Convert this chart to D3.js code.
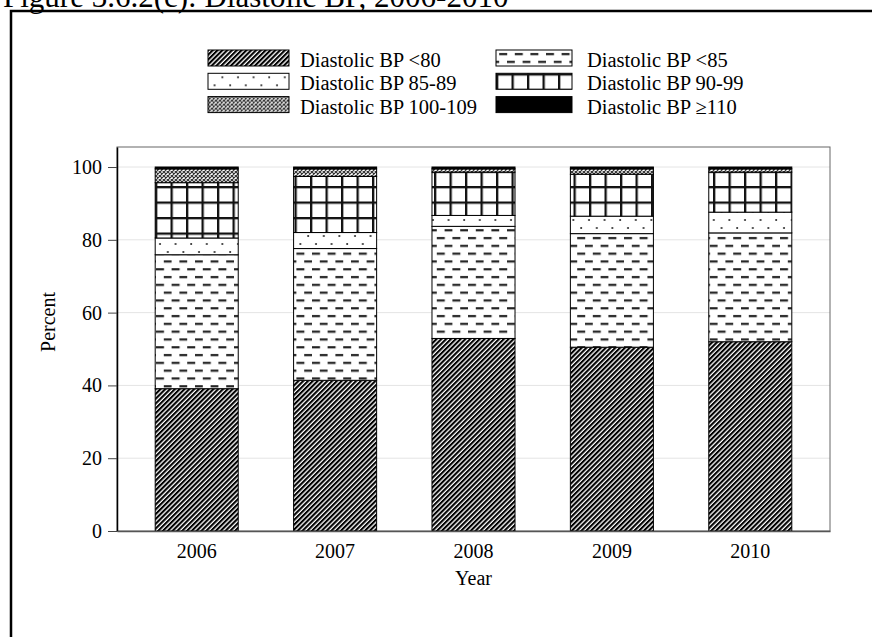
<!DOCTYPE html>
<html>
<head>
<meta charset="utf-8">
<script src="https://cdn.jsdelivr.net/npm/d3@7"></script>
<style>
  body { margin: 0; background: #fff; }
  svg text { font-family: "Liberation Serif", "Times New Roman", serif; fill: #000; }
</style>
</head>
<body>
<svg id="chart" width="872" height="637"></svg>
<script>
// values (percent of patients)
const years = ['2006', '2007', '2008', '2009', '2010'];
const bpLt80 = [39.1, 41.4, 52.9, 50.5, 52.0];
const bpLt85 = [36.8, 36.2, 30.8, 31.2, 29.9];
const bp85to89 = [4.6, 4.4, 3.0, 4.8, 5.7];
const bp90to99 = [15.2, 15.4, 11.9, 11.5, 11.0];
const bp100to109 = [3.8, 2.1, 0.9, 1.5, 0.9];
const bpGe110 = [0.5, 0.5, 0.5, 0.5, 0.5];
const seriesNames = ['Diastolic BP <80', 'Diastolic BP <85', 'Diastolic BP 85-89',
  'Diastolic BP 90-99', 'Diastolic BP 100-109', 'Diastolic BP \u2265110'];
const yTicks = [0, 20, 40, 60, 80, 100];

const seriesValues = [bpLt80, bpLt85, bp85to89, bp90to99, bp100to109, bpGe110];
const keys = ['k0', 'k1', 'k2', 'k3', 'k4', 'k5'];
const rows = years.map((yr, i) => {
  const r = { year: yr };
  keys.forEach((k, j) => { r[k] = seriesValues[j][i]; });
  return r;
});

const serif = '"Liberation Serif", "Times New Roman", serif';
const svg = d3.select('#chart');
svg.append('rect').attr('width', 872).attr('height', 637).attr('fill', '#fff');

// patterns
const defs = svg.append('defs');

let p = defs.append('pattern').attr('id', 'pat0')
  .attr('patternUnits', 'userSpaceOnUse').attr('width', 3.4).attr('height', 3.4)
  .attr('patternTransform', 'rotate(45)');
p.append('rect').attr('width', 3.4).attr('height', 3.4).attr('fill', '#fff');
p.append('rect').attr('width', 2.1).attr('height', 3.4).attr('fill', '#000');

p = defs.append('pattern').attr('id', 'pat1')
  .attr('patternUnits', 'userSpaceOnUse').attr('width', 15.6).attr('height', 15.6);
p.append('rect').attr('width', 15.6).attr('height', 15.6).attr('fill', '#fff');
p.append('rect').attr('x', 0).attr('y', 3).attr('width', 8).attr('height', 2.2).attr('fill', '#222');
p.append('rect').attr('x', 7.8).attr('y', 10.8).attr('width', 8).attr('height', 2.2).attr('fill', '#222');

p = defs.append('pattern').attr('id', 'pat2')
  .attr('patternUnits', 'userSpaceOnUse').attr('width', 15.6).attr('height', 16);
p.append('rect').attr('width', 15.6).attr('height', 16).attr('fill', '#fff');
p.append('circle').attr('cx', 4).attr('cy', 4).attr('r', 1).attr('fill', '#222');
p.append('circle').attr('cx', 11.8).attr('cy', 12).attr('r', 1).attr('fill', '#222');

p = defs.append('pattern').attr('id', 'pat3')
  .attr('patternUnits', 'userSpaceOnUse').attr('width', 15.5).attr('height', 15.5);
p.append('rect').attr('width', 15.5).attr('height', 15.5).attr('fill', '#fff');
p.append('rect').attr('x', 0).attr('y', 0).attr('width', 2.3).attr('height', 15.5).attr('fill', '#111');
p.append('rect').attr('x', 0).attr('y', 0).attr('width', 15.5).attr('height', 2.3).attr('fill', '#111');

p = defs.append('pattern').attr('id', 'pat4')
  .attr('patternUnits', 'userSpaceOnUse').attr('width', 4).attr('height', 4);
p.append('rect').attr('width', 4).attr('height', 4).attr('fill', '#fff');
p.append('path').attr('d', 'M0,0L4,4M4,0L0,4').attr('stroke', '#333').attr('stroke-width', 1.2);

const fills = ['url(#pat0)', 'url(#pat1)', 'url(#pat2)', 'url(#pat3)', 'url(#pat4)', '#000'];

// title (cut off at the top as in the original)
svg.append('text').attr('x', 3).attr('y', 7)
  .style('font-family', serif).style('font-size', '31px')
  .text('Figure 3.6.2(c): Diastolic BP, 2006-2010');

// outer frame
svg.append('rect').attr('x', 11).attr('y', 11).attr('width', 880).attr('height', 640)
  .attr('fill', 'none').attr('stroke', '#000').attr('stroke-width', 2.5);

const plotLeft = 117, plotRight = 830, plotTop = 147, plotBottom = 531;

const x = d3.scaleBand().domain(years).range([plotLeft, plotRight])
  .paddingInner(0.4).paddingOuter(0.276);
const y = d3.scaleLinear().domain([0, 105.5]).range([plotBottom, plotTop]);

// gridlines
svg.append('g').selectAll('line').data(yTicks.filter(d => d > 0)).join('line')
  .attr('x1', plotLeft).attr('x2', plotRight)
  .attr('y1', d => y(d)).attr('y2', d => y(d))
  .attr('stroke', '#e4e4e4').attr('stroke-width', 1);

// plot frame
svg.append('rect').attr('x', plotLeft).attr('y', plotTop)
  .attr('width', plotRight - plotLeft).attr('height', plotBottom - plotTop)
  .attr('fill', 'none').attr('stroke', '#666').attr('stroke-width', 1);

// bars
const stacked = d3.stack().keys(keys)(rows);
svg.append('g').selectAll('g').data(stacked).join('g')
  .attr('fill', (d, i) => fills[i])
  .selectAll('rect').data(d => d).join('rect')
  .attr('x', d => x(d.data.year))
  .attr('width', x.bandwidth())
  .attr('y', d => y(d[1]))
  .attr('height', d => y(d[0]) - y(d[1]))
  .attr('stroke', '#000').attr('stroke-width', 1);

// y axis
const yAxis = svg.append('g').attr('transform', `translate(${plotLeft},0)`)
  .call(d3.axisLeft(y).tickValues(yTicks).tickSize(9).tickPadding(6).tickSizeOuter(0));
yAxis.select('.domain').attr('stroke', '#000').attr('stroke-width', 1.5);
yAxis.selectAll('.tick line').attr('stroke', '#444');
yAxis.selectAll('.tick text').style('font-size', '20px').style('font-family', serif);

// x axis
const xAxis = svg.append('g').attr('transform', `translate(0,${plotBottom})`)
  .call(d3.axisBottom(x).tickSize(0).tickPadding(13).tickSizeOuter(0));
xAxis.select('.domain').attr('stroke', '#555').attr('stroke-width', 1.5);
xAxis.selectAll('.tick text').style('font-size', '20px').style('font-family', serif);

// axis titles
svg.append('text').attr('x', (plotLeft + plotRight) / 2).attr('y', 585)
  .attr('text-anchor', 'middle').style('font-family', serif).style('font-size', '20px').text('Year');
svg.append('text').attr('transform', 'translate(55,322) rotate(-90)')
  .attr('text-anchor', 'middle').style('font-family', serif).style('font-size', '20px').text('Percent');

// legend
const legendCols = [{ sx: 208, sw: 81, tx: 300 }, { sx: 496, sw: 76, tx: 587 }];
const legend = svg.append('g').selectAll('g').data(seriesNames).join('g')
  .attr('transform', (d, i) => `translate(0,${50 + Math.floor(i / 2) * 23.3})`);
legend.append('rect')
  .attr('x', (d, i) => legendCols[i % 2].sx).attr('y', 0)
  .attr('width', (d, i) => legendCols[i % 2].sw).attr('height', 16)
  .attr('fill', (d, i) => fills[i]).attr('stroke', '#000').attr('stroke-width', 1);
legend.append('text')
  .attr('x', (d, i) => legendCols[i % 2].tx).attr('y', 17)
  .style('font-family', serif).style('font-size', '20.5px')
  .text(d => d);
</script>
</body>
</html>
